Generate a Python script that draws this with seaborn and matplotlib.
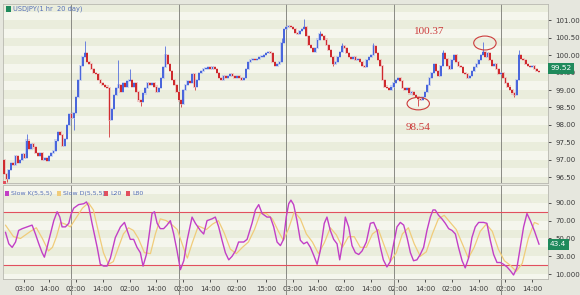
import numpy as np
import pandas as pd
import matplotlib
matplotlib.use("Agg")
import matplotlib.pyplot as plt
import matplotlib.transforms as mtransforms
from matplotlib.patches import Ellipse, Rectangle
import seaborn as sns

# ---------------- data ----------------
TITLE = "USDJPY(1 hr  20 day)"
OPEN_FIRST = 97.0
CLOSES = [
    96.60, 96.45, 96.70, 96.90, 96.85, 97.10, 96.90, 97.00, 97.15, 97.05,
    97.55, 97.30, 97.45, 97.35, 97.20, 97.10, 97.20, 97.00, 97.05, 96.95,
    97.10, 97.20, 97.25, 97.55, 97.80, 97.70, 97.40, 97.60, 98.00, 98.30,
    98.20, 98.35, 98.80, 99.30, 99.70, 99.95, 100.05, 99.80, 99.75, 99.60,
    99.50, 99.45, 99.30, 99.20, 99.15, 99.10, 99.05, 98.15, 98.45, 98.85,
    99.05, 99.15, 98.95, 99.20, 99.10, 99.25, 99.30, 99.10, 99.20, 98.95,
    98.70, 98.65, 98.90, 99.05, 99.20, 99.15, 99.20, 99.10, 98.95, 99.05,
    99.35, 99.65, 100.00, 99.75, 99.55, 99.30, 99.15, 98.95, 98.70, 98.60,
    99.00, 99.15, 99.25, 99.20, 99.45, 99.10, 99.30, 99.50, 99.55, 99.60,
    99.60, 99.65, 99.60, 99.65, 99.60, 99.50, 99.35, 99.30, 99.40, 99.35,
    99.40, 99.45, 99.40, 99.35, 99.40, 99.35, 99.30, 99.35, 99.60, 99.80,
    99.85, 99.90, 99.85, 99.90, 99.95, 99.95, 100.00, 100.05, 100.10, 100.05,
    99.80, 99.70, 99.75, 99.80, 100.35, 100.75, 100.80, 100.85, 100.80, 100.75,
    100.65, 100.60, 100.70, 100.75, 100.80, 100.55, 100.30, 100.20, 100.10, 100.20,
    100.45, 100.60, 100.55, 100.45, 100.30, 100.15, 99.95, 99.75, 99.80, 99.95,
    100.10, 100.25, 100.20, 100.05, 99.95, 99.90, 99.95, 99.85, 99.90, 99.80,
    99.70, 99.65, 99.85, 99.95, 100.00, 100.25, 100.05, 99.85, 99.70, 99.30,
    99.10, 99.05, 99.00, 99.10, 99.20, 99.30, 99.35, 99.25, 99.05, 99.00,
    99.05, 98.90, 98.95, 98.85, 98.80, 98.75, 98.72, 98.80, 98.95, 99.15,
    99.35, 99.50, 99.75, 99.55, 99.40, 99.70, 100.05, 99.90, 99.70, 99.60,
    99.85, 100.00, 99.80, 99.70, 99.65, 99.50, 99.45, 99.35, 99.40, 99.55,
    99.65, 99.75, 99.85, 100.00, 100.10, 99.95, 100.05, 99.85, 99.70, 99.75,
    99.60, 99.45, 99.50, 99.35, 99.20, 99.10, 99.00, 98.90, 98.85, 99.30,
    100.00, 99.90, 99.85, 99.75, 99.70, 99.65, 99.70, 99.60, 99.55, 99.52,
]
HIGH_WICKS = {10: 97.75, 36: 100.40, 51: 99.85, 56: 99.60, 72: 100.25,
              124: 100.50, 134: 101.05, 141: 100.70, 151: 100.35,
              165: 100.35, 196: 100.15, 214: 100.37, 230: 100.15}
LOW_WICKS = {1: 96.35, 31: 97.85, 47: 97.65, 61: 98.55, 79: 98.50,
             85: 99.00, 147: 99.70, 185: 98.54, 228: 98.80}

K_T = [0.5, 2.0, 3.5, 5.0, 6.4, 8.0, 10.2, 12.4, 13.9, 15.4,
       16.9, 17.9, 19.1, 20.6, 22.1, 23.6, 24.8, 25.8, 27.3, 28.8,
       29.8, 31.0, 33.2, 35.5, 36.7, 37.7, 39.2, 41.5, 42.9, 44.4,
       45.9, 47.4, 49.6, 51.9, 53.7, 54.9, 56.3, 57.8, 59.3, 60.8,
       62.0, 63.5, 65.0, 66.0, 67.1, 68.3, 69.7, 71.2, 72.7, 74.2,
       75.7, 77.2, 78.7,
       80.2, 81.7, 83.9, 85.4, 87.6, 89.1, 90.6, 92.8, 94.3, 95.8,
       97.3, 98.8, 100.3, 101.8, 103.3, 104.7, 107.0, 108.5, 110.7, 112.2,
       113.7, 115.2, 117.4, 118.9, 120.4, 121.9, 123.4, 124.8, 126.0, 127.1,
       128.1, 129.3, 130.8, 132.3, 133.8, 135.3, 136.8, 138.3, 139.8, 141.2,
       143.0, 144.2, 145.7, 147.2, 148.7, 149.9, 151.4, 152.4, 153.9, 155.4,
       156.9, 158.4, 159.9, 161.8, 163.6, 165.1, 166.6, 168.1,
       169.4, 171.0, 172.5, 174.0, 175.5, 177.0, 178.5, 180.0, 181.5, 182.9,
       184.4, 185.9, 187.4, 188.9, 190.4, 191.6, 192.6, 194.1, 195.6, 197.1,
       198.6, 200.1, 201.6, 203.0, 204.6, 206.0, 207.5, 209.0, 210.5, 212.0,
       214.2, 215.7, 217.2, 218.7, 220.2, 221.7, 223.1, 224.7, 226.1, 227.6,
       229.1, 230.6, 232.1, 233.6, 235.1, 237.0, 239.0]
K_V = [57, 44, 40, 46, 59, 61, 63, 65, 55, 44,
       34, 29, 40, 55, 70, 80, 74, 63, 63, 67,
       77, 84, 88, 89, 91, 86, 67, 40, 21, 19,
       19, 28, 51, 63, 68, 59, 49, 49, 40, 34,
       19, 32, 59, 78, 80, 67, 61, 61, 65, 70,
       55, 36, 15,
       25, 48, 74, 67, 59, 55, 70, 72, 74, 63,
       48, 34, 26, 30, 36, 46, 46, 49, 67, 82,
       88, 78, 74, 74, 63, 46, 42, 49, 74, 89,
       93, 88, 70, 48, 44, 46, 40, 31, 21, 36,
       67, 74, 59, 49, 44, 26, 48, 74, 63, 42,
       34, 32, 36, 46, 67, 68, 59, 40,
       26, 18, 24, 44, 63, 68, 65, 51, 34, 25,
       26, 32, 40, 59, 74, 82, 82, 76, 72, 67,
       61, 59, 55, 40, 25, 17, 28, 51, 63, 68,
       68, 67, 48, 32, 23, 23, 21, 18, 14, 9,
       17, 40, 63, 78, 70, 58, 43.4]

D_T = [0.5, 4.1, 7.2, 11.7, 14.3, 17.0, 19.7, 21.5, 23.3, 25.1,
       27.3, 29.5, 31.8, 34.9, 37.6, 39.8, 42.0, 44.3, 46.5, 48.7,
       51.0, 53.2, 55.5, 57.7, 59.9, 62.6, 65.3, 67.5, 69.7, 72.4,
       75.1, 77.3, 80.0, 81.8, 84.0, 86.7, 90.3, 93.0, 95.7, 98.3,
       101.0, 103.7, 106.4, 109.1, 111.8, 114.4, 117.1, 119.8, 122.5, 124.7,
       126.9, 129.6, 132.3, 135.0, 137.7, 140.4, 143.0, 145.7, 148.4, 151.1,
       153.8, 156.4, 159.1, 161.8, 164.5, 167.2, 169.8, 172.5, 175.2, 177.9,
       180.6, 183.2, 185.9, 188.6, 191.3, 194.0, 196.6, 199.3, 202.0, 204.7,
       207.4, 210.0, 212.7, 215.4, 218.1, 220.8, 223.5, 226.1, 228.8, 231.5,
       234.2, 236.9, 238.7]
D_V = [65, 52, 50, 58, 62, 50, 36, 40, 52, 68,
       66, 63, 72, 84, 90, 82, 58, 34, 21, 24,
       40, 55, 62, 59, 50, 34, 33, 55, 72, 70,
       65, 60, 40, 28, 45, 64, 60, 66, 70, 56,
       38, 33, 40, 46, 60, 78, 78, 72, 58, 48,
       60, 80, 72, 55, 46, 33, 45, 62, 54, 40,
       52, 52, 40, 40, 55, 60, 42, 24, 34, 55,
       62, 44, 30, 35, 55, 72, 76, 68, 60, 44,
       28, 40, 58, 66, 58, 38, 25, 20, 13, 22,
       50, 68, 66]

L_LOW, L_HIGH = 20, 80
LAST_PRICE_LABEL = "99.52"
LAST_K_LABEL = "43.4"
ANNOT_HIGH = ("100.37", 214, 100.37)
ANNOT_LOW = ("98.54", 185, 98.54)

TICK_POS = [9, 20, 32, 44, 56, 68, 80, 92, 104, 117,
            129, 140, 152, 164, 176, 188, 200, 212, 224, 236]
TICK_LAB = ["03:00", "14:00", "02:00", "14:00", "02:00", "14:00", "02:00",
            "14:00", "02:00", "15:00", "03:00", "14:00", "02:00", "14:00",
            "02:00", "14:00", "02:00", "14:00", "02:00", "14:00"]
SEPARATORS = [30, 78, 126, 174, 222]
PRICE_TICKS = [96.5, 97.0, 97.5, 98.0, 98.5, 99.0, 99.5, 100.0, 100.5, 101.0]
OSC_TICKS = [10, 30, 50, 70, 90]
OSC_TICK_LAB = ["10.000", "30.00", "50.00", "70.00", "90.00"]

# ---------------- style ----------------
sns.set_theme(style="white")
plt.rcParams["font.family"] = ["DejaVu Sans"]

W, H = 580, 295
FIG_BG = "#e6e7de"
AX_BG = "#f5f6ed"
BAND = "#eaeddc"
BLUE = "#4a66dc"
RED = "#cf2a2e"
K_COL = "#c23fc6"
D_COL = "#f0cc7a"
L_COL = "#e2505e"
SEP_COL = "#8a8a84"
ANN_COL = "#cc3b3b"

fig = plt.figure(figsize=(W / 100, H / 100), dpi=100, facecolor=FIG_BG)


def rect(x0, y0, x1, y1):
    return [x0 / W, 1 - y1 / H, (x1 - x0) / W, (y1 - y0) / H]


ax1 = fig.add_axes(rect(3, 4, 548, 183))
ax2 = fig.add_axes(rect(3, 185, 548, 279))
XMIN, XMAX = -0.6, 243.0

df = pd.DataFrame({"close": CLOSES})
df["idx"] = np.arange(len(df))
df["open"] = [OPEN_FIRST] + CLOSES[:-1]
df["up"] = df["close"] >= df["open"]

for ax in (ax1, ax2):
    ax.set_facecolor(AX_BG)
    ax.set_xlim(XMIN, XMAX)
    for s in ax.spines.values():
        s.set_color("#b8b8b0")
        s.set_linewidth(0.6)

# price panel
ax1.set_ylim(96.33, 101.47)
for k, lo in enumerate(np.arange(96.25, 101.5, 0.25)):
    if k % 2 == 0:
        ax1.axhspan(lo, lo + 0.25, color=BAND, lw=0, zorder=0)

bodies_lo = np.minimum(df["open"], df["close"])
bodies_h = np.maximum(np.abs(df["close"] - df["open"]), 0.02)
cols = np.where(df["up"], BLUE, RED)
halo = np.where(df["up"], "#a9b8ee", "#eaa6a8")
# soft halo around bodies (GIF-like anti-aliasing of the original)
ax1.bar(df["idx"], bodies_h + 0.06, bottom=bodies_lo - 0.03, width=1.2,
        color=halo, linewidth=0, alpha=0.55, zorder=2)
for i, hi in HIGH_WICKS.items():
    top = max(df.loc[i, "open"], df.loc[i, "close"])
    ax1.vlines(i, top, hi, color=cols[i], lw=0.7, alpha=0.8, zorder=2)
for i, lo in LOW_WICKS.items():
    bot = min(df.loc[i, "open"], df.loc[i, "close"])
    ax1.vlines(i, lo, bot, color=cols[i], lw=0.7, alpha=0.8, zorder=2)
ax1.bar(df["idx"], bodies_h, bottom=bodies_lo, width=0.8, color=cols,
        linewidth=0, zorder=3)

for s in SEPARATORS:
    ax1.axvline(s, color=SEP_COL, lw=0.7, zorder=1)

ax1.yaxis.tick_right()
ax1.set_yticks(PRICE_TICKS)
ax1.set_yticklabels([f"{v:.2f}" for v in PRICE_TICKS])
ax1.tick_params(axis="y", length=2.5, width=0.6, pad=3, labelsize=5,
                colors="#3a3a3a", right=True, left=False)
ax1.set_xticks([])
ax1.set_xlabel("")
ax1.set_ylabel("")

# annotations
txt, ih, vh = ANNOT_HIGH
ax1.add_patch(Ellipse((ih + 0.8, vh - 0.02), 10, 0.40, fill=False,
                      edgecolor=ANN_COL, lw=0.8, zorder=4))
ax1.text(ih - 24, vh + 0.30, txt, color=ANN_COL, fontsize=8,
         family="Liberation Serif", ha="center", va="center")
txt, il, vl = ANNOT_LOW
ax1.add_patch(Ellipse((il, vl + 0.07), 10, 0.36, fill=False,
                      edgecolor=ANN_COL, lw=0.8, zorder=4))
ax1.text(il, vl - 0.62, txt, color=ANN_COL, fontsize=8,
         family="Liberation Serif", ha="center", va="center")

# last price box
tr1 = mtransforms.blended_transform_factory(ax1.transAxes, ax1.transData)
ax1.text(1.004, CLOSES[-1] + 0.11, LAST_PRICE_LABEL, transform=tr1, ha="left",
         va="center", fontsize=5.3, color="white", zorder=6, clip_on=False,
         bbox=dict(boxstyle="square,pad=0.35", fc="#1f8a5c", ec="none"))

# title legend
fig.add_artist(Rectangle((6 / W, 1 - 12 / H), 5 / W, 6 / H,
                         transform=fig.transFigure, fc="#1f8a5c", ec="none"))
fig.text(13 / W, 1 - 9 / H, TITLE, fontsize=4.8, color="#5670b8",
         va="center", ha="left")

# oscillator panel
ax2.set_ylim(4.5, 110)
for k, lo in enumerate(np.arange(0, 110, 10)):
    if k % 2 == 1:
        ax2.axhspan(lo, lo + 10, color=BAND, lw=0, zorder=0)
ax2.axhline(L_HIGH, color=L_COL, lw=0.8, zorder=2)
ax2.axhline(L_LOW, color=L_COL, lw=0.8, zorder=2)
sns.lineplot(x=D_T, y=D_V, ax=ax2, color=D_COL, lw=0.9, estimator=None,
             zorder=3)
sns.lineplot(x=K_T, y=K_V, ax=ax2, color=K_COL, lw=1.0, estimator=None,
             zorder=4)
for s in SEPARATORS:
    ax2.axvline(s, ymin=-0.18, ymax=1, color=SEP_COL, lw=0.7, zorder=1,
                clip_on=False)

ax2.yaxis.tick_right()
ax2.set_yticks(OSC_TICKS)
ax2.set_yticklabels(OSC_TICK_LAB)
ax2.tick_params(axis="y", length=2.5, width=0.6, pad=3, labelsize=5,
                colors="#3a3a3a", right=True, left=False)
ax2.set_xticks(TICK_POS)
ax2.set_xticklabels(TICK_LAB)
ax2.tick_params(axis="x", length=2, width=0.6, pad=3, labelsize=5,
                colors="#3a3a3a", bottom=True)
ax2.set_xlabel("")
ax2.set_ylabel("")

tr2 = mtransforms.blended_transform_factory(ax2.transAxes, ax2.transData)
ax2.text(1.004, K_V[-1], LAST_K_LABEL, transform=tr2, ha="left",
         va="center", fontsize=5.3, color="white", zorder=6, clip_on=False,
         bbox=dict(boxstyle="square,pad=0.35", fc="#1f8a5c", ec="none"))

# oscillator legend
leg_items = [("Slow K(5,5,5)", K_COL, 5), ("Slow D(5,5,5)", D_COL, 57),
             ("L20", L_COL, 104), ("L80", L_COL, 126)]
for lab, c, x in leg_items:
    fig.add_artist(Rectangle((x / W, 1 - 196 / H), 4 / W, 5 / H,
                             transform=fig.transFigure, fc=c, ec="none"))
    fig.text((x + 6) / W, 1 - 193.5 / H, lab, fontsize=4.5, color="#5670b8",
             va="center", ha="left")
fig.add_artist(Rectangle((3 / W, 1 - 184 / H), 3 / W, 3 / H,
                         transform=fig.transFigure, fc=L_COL, ec="none"))

fig.savefig("out.png", dpi=100, facecolor=FIG_BG)
